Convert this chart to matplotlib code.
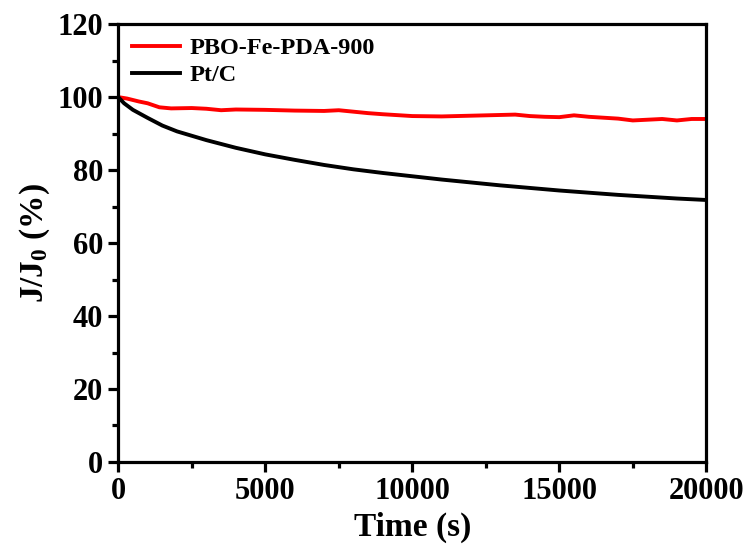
import matplotlib
matplotlib.use('Agg')
import matplotlib.pyplot as plt
from matplotlib.ticker import MultipleLocator

# --- data ---
t_red = [0, 300, 700, 1000, 1400, 1800, 2500, 3000, 3500, 4000, 5000, 6000, 7000, 7500,
         8000, 8500, 9000, 10000, 11000, 12000, 13000, 13500, 14000, 14500, 15000, 15500,
         16000, 17000, 17500, 18000, 18500, 19000, 19500, 20000]
j_red = [100.0, 99.6, 98.8, 98.3, 97.2, 96.9, 97.0, 96.8, 96.4, 96.6, 96.5, 96.3, 96.2, 96.4,
         96.0, 95.6, 95.3, 94.8, 94.7, 94.9, 95.1, 95.2, 94.8, 94.6, 94.5, 95.0,
         94.6, 94.1, 93.6, 93.8, 94.0, 93.6, 94.0, 94.0]

t_blk = [0, 200, 500, 1000, 1500, 2000, 3000, 4000, 5000, 6000, 7000, 8000, 9000, 10000,
         11000, 12000, 13000, 14000, 15000, 16000, 17000, 18000, 19000, 20000]
j_blk = [100.0, 98.3, 96.5, 94.3, 92.2, 90.6, 88.2, 86.1, 84.3, 82.8, 81.4, 80.2, 79.2, 78.3,
         77.4, 76.6, 75.8, 75.1, 74.4, 73.8, 73.2, 72.7, 72.2, 71.8]

labels = ['PBO-Fe-PDA-900', 'Pt/C']

plt.rcParams['font.family'] = 'Liberation Serif'
plt.rcParams['font.weight'] = 'bold'
plt.rcParams['mathtext.fontset'] = 'custom'
plt.rcParams['mathtext.rm'] = 'Liberation Serif:bold'
plt.rcParams['mathtext.it'] = 'Liberation Serif:bold'
plt.rcParams['mathtext.bf'] = 'Liberation Serif:bold'


def main():
    fig = plt.figure(figsize=(7.53, 5.48), dpi=100)
    ax = fig.add_axes([0.157, 0.157, 0.781, 0.799])

    ax.plot(t_red, j_red, color='#ff0000', lw=2.8, label=labels[0])
    ax.plot(t_blk, j_blk, color='black', lw=2.8, label=labels[1])

    ax.set_xlim(0, 20000)
    ax.set_ylim(0, 120)
    ax.xaxis.set_major_locator(MultipleLocator(5000))
    ax.xaxis.set_minor_locator(MultipleLocator(2500))
    ax.yaxis.set_major_locator(MultipleLocator(20))
    ax.yaxis.set_minor_locator(MultipleLocator(10))

    for s in ax.spines.values():
        s.set_linewidth(2.3)
    ax.tick_params(which='major', direction='out', length=7, width=2.3, labelsize=22, pad=4)
    ax.tick_params(which='minor', direction='out', length=4, width=2.3)
    ax.tick_params(axis='y', which='both', right=False)
    ax.tick_params(axis='x', which='both', top=False)

    ax.set_xlabel('Time (s)', fontsize=24, fontweight='bold', labelpad=4)
    ax.set_ylabel(r'J/J$_0$ (%)', fontsize=24, fontweight='bold', labelpad=4)

    ax.legend(loc='upper left', frameon=False, fontsize=17.5, handlelength=2.0,
              handletextpad=0.4, labelspacing=0.2, borderaxespad=0.15)

    fig.savefig('out.png', dpi=100)


if __name__ == '__main__':
    main()
